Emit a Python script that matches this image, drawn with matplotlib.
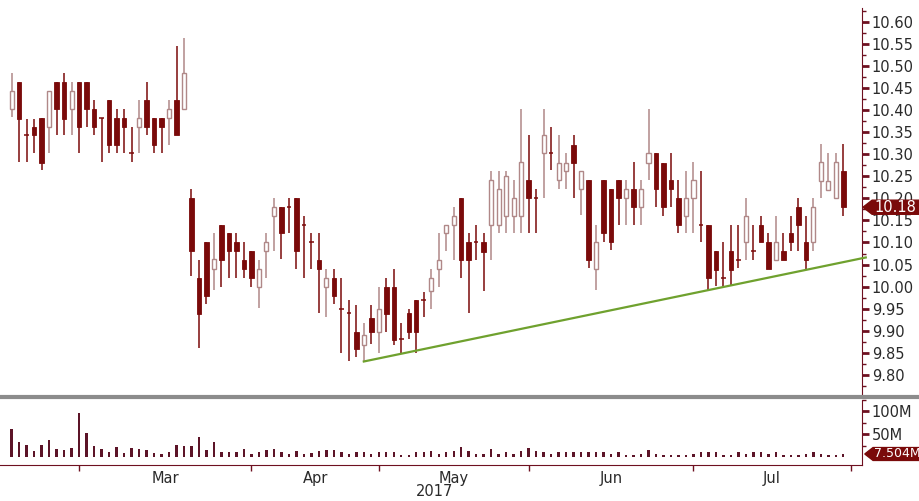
import numpy as np
import matplotlib
matplotlib.use("Agg")
import matplotlib.pyplot as plt
import matplotlib.transforms as mtransforms
from matplotlib.lines import Line2D
from matplotlib.patches import Polygon

plt.rcParams['font.family'] = ['DejaVu Sans']

# daily OHLC, mid Feb .. mid Jul 2017
opens = [10.402, 10.465, 10.344, 10.363, 10.383, 10.363, 10.465, 10.465, 10.402, 10.465,
         10.465, 10.402, 10.383, 10.423, 10.383, 10.383, 10.302, 10.363, 10.423, 10.383,
         10.383, 10.383, 10.423, 10.402, 10.200, 10.020, 10.100, 10.039, 10.140, 10.121,
         10.100, 10.060, 10.081, 10.000, 10.081, 10.161, 10.181, 10.181, 10.202, 10.140,
         10.100, 10.060, 10.000, 10.019, 9.948, 9.939, 9.898, 9.868, 9.928, 9.898,
         10.000, 10.000, 9.880, 9.939, 9.970, 9.970, 9.990, 10.039, 10.121, 10.140,
         10.202, 10.100, 10.100, 10.100, 10.140, 10.140, 10.160, 10.160, 10.160, 10.242,
         10.200, 10.302, 10.302, 10.242, 10.262, 10.321, 10.221, 10.242, 10.039, 10.242,
         10.221, 10.242, 10.200, 10.221, 10.181, 10.281, 10.302, 10.281, 10.242, 10.200,
         10.160, 10.200, 10.140, 10.140, 10.081, 10.019, 10.081, 10.060, 10.100, 10.081,
         10.140, 10.100, 10.060, 10.081, 10.121, 10.181, 10.100, 10.100, 10.240, 10.220,
         10.200, 10.263]
highs = [10.484, 10.465, 10.381, 10.381, 10.383, 10.444, 10.465, 10.485, 10.465, 10.465,
         10.465, 10.423, 10.383, 10.423, 10.402, 10.402, 10.363, 10.423, 10.465, 10.383,
         10.383, 10.423, 10.546, 10.565, 10.221, 10.060, 10.100, 10.121, 10.140, 10.121,
         10.121, 10.100, 10.081, 10.060, 10.121, 10.202, 10.181, 10.202, 10.202, 10.161,
         10.121, 10.121, 10.039, 10.039, 10.019, 9.970, 9.958, 9.918, 9.958, 10.000,
         10.019, 10.039, 9.918, 9.948, 9.970, 9.988, 10.039, 10.121, 10.140, 10.181,
         10.202, 10.121, 10.140, 10.121, 10.263, 10.263, 10.263, 10.242, 10.402, 10.344,
         10.221, 10.402, 10.363, 10.344, 10.302, 10.344, 10.262, 10.242, 10.140, 10.242,
         10.221, 10.242, 10.242, 10.283, 10.242, 10.402, 10.302, 10.281, 10.302, 10.242,
         10.262, 10.283, 10.263, 10.140, 10.081, 10.100, 10.140, 10.140, 10.200, 10.140,
         10.161, 10.121, 10.161, 10.121, 10.161, 10.200, 10.161, 10.200, 10.323, 10.302,
         10.302, 10.323]
lows = [10.385, 10.283, 10.283, 10.302, 10.264, 10.302, 10.344, 10.344, 10.344, 10.302,
        10.363, 10.344, 10.283, 10.302, 10.302, 10.302, 10.283, 10.302, 10.344, 10.302,
        10.302, 10.321, 10.344, 10.402, 10.023, 9.860, 9.960, 9.992, 10.000, 10.020,
        10.020, 10.020, 10.000, 9.951, 10.020, 10.081, 10.062, 10.121, 10.039, 10.020,
        10.039, 9.939, 9.932, 9.960, 9.849, 9.830, 9.840, 9.830, 9.870, 9.849,
        9.898, 9.868, 9.849, 9.880, 9.849, 9.930, 9.948, 10.000, 10.081, 10.060,
        10.019, 9.939, 10.060, 9.990, 10.060, 10.121, 10.121, 10.121, 10.121, 10.121,
        10.121, 10.200, 10.264, 10.221, 10.221, 10.200, 10.162, 10.041, 9.992, 10.102,
        10.083, 10.140, 10.140, 10.140, 10.140, 10.242, 10.181, 10.160, 10.181, 10.121,
        10.121, 10.121, 10.102, 9.992, 10.001, 10.001, 10.001, 10.041, 10.060, 10.060,
        10.100, 10.040, 10.060, 10.060, 10.081, 10.081, 10.040, 10.081, 10.200, 10.220,
        10.200, 10.161]
closes = [10.444, 10.381, 10.344, 10.344, 10.281, 10.444, 10.402, 10.381, 10.444, 10.363,
          10.402, 10.363, 10.383, 10.321, 10.321, 10.363, 10.302, 10.383, 10.363, 10.321,
          10.363, 10.402, 10.344, 10.485, 10.081, 9.938, 9.979, 10.062, 10.060, 10.081,
          10.081, 10.039, 10.019, 10.039, 10.100, 10.181, 10.121, 10.181, 10.081, 10.140,
          10.100, 10.039, 10.019, 9.979, 9.948, 9.939, 9.858, 9.890, 9.898, 9.948,
          9.938, 9.879, 9.880, 9.898, 9.898, 9.970, 10.019, 10.060, 10.140, 10.161,
          10.060, 10.060, 10.100, 10.079, 10.242, 10.221, 10.250, 10.200, 10.283, 10.200,
          10.200, 10.344, 10.302, 10.281, 10.281, 10.281, 10.262, 10.060, 10.100, 10.121,
          10.100, 10.200, 10.221, 10.181, 10.221, 10.302, 10.221, 10.181, 10.221, 10.140,
          10.200, 10.242, 10.140, 10.019, 10.038, 10.019, 10.038, 10.060, 10.161, 10.081,
          10.100, 10.040, 10.100, 10.060, 10.100, 10.140, 10.060, 10.181, 10.282, 10.240,
          10.282, 10.181]
# volume, millions
volumes = [62, 33, 26, 14, 26, 38, 19, 16, 21, 96, 53, 25, 19, 12, 23, 10, 21, 19, 16, 9,
           7, 12, 28, 25, 25, 44, 16, 33, 12, 11, 11, 18, 7, 11, 16, 18, 12, 7, 14, 7,
           9, 14, 16, 16, 11, 7, 12, 12, 7, 11, 11, 11, 5, 5, 11, 11, 14, 7, 11, 13,
           23, 14, 7, 7, 18, 7, 11, 7, 14, 21, 14, 12, 7, 11, 11, 11, 11, 11, 11, 11,
           7, 11, 5, 5, 7, 16, 7, 5, 5, 5, 5, 7, 11, 11, 11, 5, 5, 11, 7, 11,
           11, 7, 11, 5, 5, 5, 7, 11, 7, 5, 5, 7.504]

month_ticks = [9, 32, 49, 69, 91, 112]
month_names = ["Mar", "Apr", "May", "Jun", "Jul"]
trend_x = [47, 114]
trend_y = [9.83, 10.066]
last_price = 10.18
last_volume = 7.504

DOWN = '#7a0a0a'
UP_EDGE = '#b08888'
AXIS = '#6e1020'
TXT = '#2a2a2a'

fig = plt.figure(figsize=(9.19, 5.01), dpi=100)
ax = fig.add_axes([0, 0.2116, 0.938, 0.7724])
axv = fig.add_axes([0, 0.0719, 0.938, 0.1297])

x = np.arange(len(opens))
o = np.array(opens); h = np.array(highs); l = np.array(lows); c = np.array(closes)
up = c > o
dn = c < o
dj = c == o

# wicks
ax.vlines(x[up], l[up], h[up], color=UP_EDGE, lw=1.1, zorder=2)
ax.vlines(x[~up], l[~up], h[~up], color=DOWN, lw=1.1, zorder=2)
# bodies
ax.bar(x[dn], (o - c)[dn], bottom=c[dn], width=0.6, color=DOWN, edgecolor=DOWN, lw=0.6, zorder=3)
ax.bar(x[up], (c - o)[up], bottom=o[up], width=0.55, color='white', edgecolor=UP_EDGE, lw=1.0, zorder=3)
ax.hlines(o[dj], x[dj] - 0.3, x[dj] + 0.3, color=DOWN, lw=1.1, zorder=3)

ax.plot(trend_x, trend_y, color='#6fa12e', lw=1.6, zorder=4, clip_on=False)

ax.set_xlim(-1.56, 113.5)
ax.set_ylim(9.754, 10.632)
ax.yaxis.tick_right()
ax.set_yticks(np.arange(9.80, 10.601, 0.05))
ax.set_yticks(np.arange(9.775, 10.63, 0.05), minor=True)
ax.set_yticklabels(["%.2f" % v for v in np.arange(9.80, 10.601, 0.05)])
ax.tick_params(axis='y', which='major', colors=AXIS, length=5, width=2, labelsize=10.5,
               labelcolor=TXT, pad=2)
ax.tick_params(axis='y', which='minor', colors=AXIS, length=3, width=1)
ax.set_xticks([])
for s in ['left', 'top', 'bottom']:
    ax.spines[s].set_visible(False)
ax.spines['right'].set_color(AXIS)

# last price tag
tr = mtransforms.blended_transform_factory(fig.transFigure, ax.transData)
hh = 0.016
ax.add_patch(Polygon([(0.939, last_price), (0.949, last_price + hh), (1.0, last_price + hh),
                      (1.0, last_price - hh), (0.949, last_price - hh)],
                     closed=True, transform=tr, color=DOWN, clip_on=False, zorder=10))
ax.text(0.951, last_price, "%.2f" % last_price, transform=tr, color='white', fontsize=10.5,
        va='center', ha='left', zorder=11, clip_on=False)

# volume panel
axv.bar(x, volumes, width=0.32, color='#5c1428')
axv.set_xlim(-1.56, 113.5)
axv.set_ylim(-16.4, 116.8)
axv.yaxis.tick_right()
axv.set_yticks([50, 100])
axv.set_yticklabels(["50M", "100M"])
axv.set_yticks([25, 75, 125], minor=True)
axv.tick_params(axis='y', which='major', colors=AXIS, length=5, width=2, labelsize=10.5,
                labelcolor=TXT, pad=2)
axv.tick_params(axis='y', which='minor', colors=AXIS, length=3, width=1)
axv.set_xticks(month_ticks)
axv.set_xticklabels([])
axv.set_xticks([(a + b) / 2 for a, b in zip(month_ticks[:-1], month_ticks[1:])], minor=True)
axv.set_xticklabels(month_names, minor=True)
axv.tick_params(axis='x', which='major', colors=AXIS, length=4, width=1)
axv.tick_params(axis='x', which='minor', length=0, labelsize=10.5, labelcolor=TXT, pad=4)
for s in ['left', 'top']:
    axv.spines[s].set_visible(False)
axv.spines['right'].set_color(AXIS)
axv.spines['bottom'].set_color(AXIS)

trv = mtransforms.blended_transform_factory(fig.transFigure, axv.transData)
hv = 14.0
axv.add_patch(Polygon([(0.941, last_volume), (0.950, last_volume + hv), (1.0, last_volume + hv),
                       (1.0, last_volume - hv), (0.950, last_volume - hv)],
                      closed=True, transform=trv, color=DOWN, clip_on=False, zorder=10))
axv.text(0.9505, last_volume, "%.3fM" % last_volume, transform=trv, color='white', fontsize=9,
         va='center', ha='left', zorder=11, clip_on=False)

fig.text(0.473, 0.018, "2017", fontsize=10.5, color=TXT, ha='center', va='center')

# separator between panels
fig.add_artist(Line2D([0, 1], [0.2076, 0.2076], transform=fig.transFigure, color='#8c8c8c', lw=3))

fig.savefig("out.png", dpi=100)
